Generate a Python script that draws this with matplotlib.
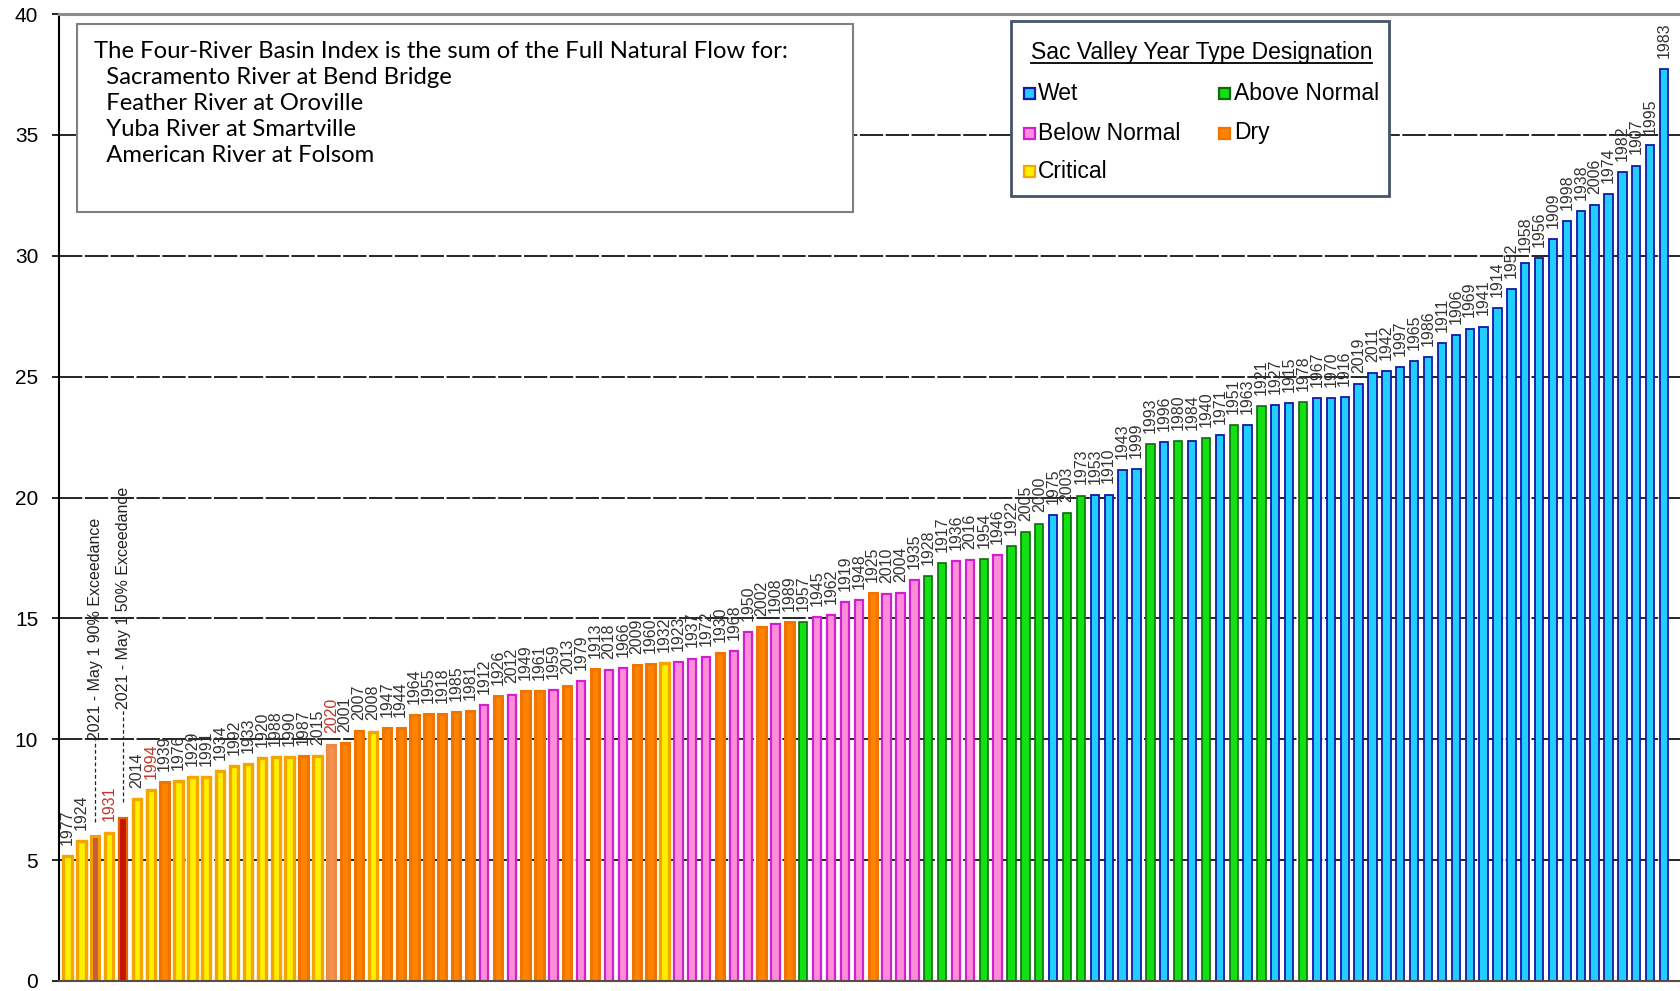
import matplotlib
matplotlib.use("Agg")
import matplotlib.pyplot as plt
from matplotlib.patches import Rectangle
from matplotlib.lines import Line2D

plt.rcParams['font.family'] = ['Liberation Sans', 'DejaVu Sans']

# ---- data (sorted by Four-River index, MAF) ----
years = ["1977", "1924", "2021 90%", "1931", "2021 50%", "2014", "1994", "1939", "1976", "1929",
         "1991", "1934", "1992", "1933", "1920", "1988", "1990", "1987", "2015", "2020",
         "2001", "2007", "2008", "1947", "1944", "1964", "1955", "1918", "1985", "1981",
         "1912", "1926", "2012", "1949", "1961", "1959", "2013", "1979", "1913", "2018",
         "1966", "2009", "1960", "1932", "1923", "1937", "1972", "1930", "1968", "1950",
         "2002", "1908", "1989", "1957", "1945", "1962", "1919", "1948", "1925", "2010",
         "2004", "1935", "1928", "1917", "1936", "2016", "1954", "1946", "1922", "2005",
         "2000", "1975", "2003", "1973", "1953", "1910", "1943", "1999", "1993", "1996",
         "1980", "1984", "1940", "1971", "1951", "1963", "1921", "1927", "1915", "1978",
         "1967", "1970", "1916", "2019", "2011", "1942", "1997", "1965", "1986", "1911",
         "1906", "1969", "1941", "1914", "1952", "1958", "1956", "1909", "1998", "1938",
         "2006", "1974", "1982", "1907", "1995", "1983"]

flow = [5.15, 5.8, 6.0, 6.14, 6.75, 7.53, 7.89, 8.24, 8.27, 8.43,
        8.45, 8.7, 8.9, 8.98, 9.23, 9.26, 9.26, 9.3, 9.3, 9.78,
        9.86, 10.34, 10.32, 10.48, 10.48, 10.99, 11.03, 11.03, 11.12, 11.16,
        11.4, 11.8, 11.85, 12.0, 12.0, 12.05, 12.22, 12.4, 12.92, 12.86,
        12.93, 13.07, 13.11, 13.17, 13.2, 13.34, 13.41, 13.55, 13.65, 14.45,
        14.63, 14.77, 14.86, 14.86, 15.07, 15.12, 15.66, 15.76, 16.03, 16.0,
        16.03, 16.59, 16.75, 17.28, 17.37, 17.41, 17.44, 17.62, 17.99, 18.56,
        18.92, 19.26, 19.35, 20.08, 20.1, 20.12, 21.14, 21.18, 22.22, 22.31,
        22.34, 22.35, 22.45, 22.59, 22.99, 23.0, 23.8, 23.83, 23.89, 23.94,
        24.1, 24.1, 24.16, 24.7, 25.16, 25.23, 25.41, 25.63, 25.82, 26.39,
        26.72, 26.99, 27.07, 27.82, 28.62, 29.7, 29.89, 30.69, 31.42, 31.85,
        32.11, 32.55, 33.45, 33.73, 34.57, 37.71]

# C critical, D dry, BN below normal, AN above normal, W wet,
# P preliminary 2020, F90 / F50 the 2021 May 1 forecasts
year_type = ["C", "C", "F90", "C", "F50", "C", "C", "D", "C", "C",
             "C", "C", "C", "C", "C", "C", "C", "D", "C", "P",
             "D", "D", "C", "D", "D", "D", "D", "D", "D", "D",
             "BN", "D", "BN", "D", "D", "BN", "D", "BN", "D", "BN",
             "BN", "D", "D", "C", "BN", "BN", "BN", "D", "BN", "BN",
             "D", "BN", "D", "AN", "BN", "BN", "BN", "BN", "D", "BN",
             "BN", "BN", "AN", "AN", "BN", "BN", "AN", "BN", "AN", "AN",
             "AN", "W", "AN", "AN", "W", "W", "W", "W", "AN", "W",
             "AN", "W", "AN", "W", "AN", "W", "AN", "W", "W", "AN",
             "W", "W", "W", "W", "W", "W", "W", "W", "W", "W",
             "W", "W", "W", "W", "W", "W", "W", "W", "W", "W",
             "W", "W", "W", "W", "W", "W"]

red_labels = ["1931", "1994", "2020"]

forecast_types = ["F90", "F50"]
forecast_text = ["2021 - May 1 90% Exceedance", "2021 - May 1 50% Exceedance"]
forecast_leader = [(6.56, 9.97), (7.41, 11.25)]

legend_names = ["Wet", "Above Normal", "Below Normal", "Dry", "Critical"]
legend_types = ["W", "AN", "BN", "D", "C"]

note_lines = ["The Four-River Basin Index is the sum of the Full Natural Flow for:",
              "  Sacramento River at Bend Bridge",
              "  Feather River at Oroville",
              "  Yuba River at Smartville",
              "  American River at Folsom"]

# ---- styles ----
fills = {"W": "#22CEFF", "AN": "#12E012", "BN": "#FF8ED9", "D": "#FF8300",
         "C": "#FFF000", "P": "#F3914D", "F90": "#C85C3C", "F50": "#C81200"}
edges = {"W": "#1218A8", "AN": "#0E6B0E", "BN": "#D020D0", "D": "#F27400",
         "C": "#F5A500", "P": "#EE8A48", "F90": "#F2A000", "F50": "#E06400"}
widths = {"W": 1.3, "AN": 1.2, "BN": 1.6, "D": 2.2, "C": 2.4, "P": 2.2,
          "F90": 2.2, "F50": 1.6}

W, H = 1681, 991
fig = plt.figure(figsize=(W / 100, H / 100), dpi=100)
ax = fig.add_axes([59 / W, 1 - 981 / H, (W - 59) / W, (981 - 14) / H])


def fx(px):
    return px / W


def fy(py):
    return 1 - py / H


x = list(range(len(flow)))
ax.bar(x, flow, width=0.6,
       color=[fills[t] for t in year_type],
       edgecolor=[edges[t] for t in year_type],
       linewidth=[widths[t] for t in year_type], zorder=2)

for i, (yr, v, t) in enumerate(zip(years, flow, year_type)):
    if t in forecast_types:
        continue
    ax.annotate(yr, (i, v), xytext=(0, 8), textcoords='offset points',
                rotation=90, ha='center', va='bottom', fontsize=11.5,
                color='#C0392B' if yr in red_labels else '#333333', zorder=3)

# 2021 forecast markers
for t, txt, (y0, y1) in zip(forecast_types, forecast_text, forecast_leader):
    i = year_type.index(t)
    ax.plot([i, i], [y0, y1], color='#222222', lw=0.9, ls=(0, (3, 2)), zorder=3)
    ax.text(i, y1, txt, rotation=90, ha='center', va='bottom', fontsize=11.5,
            color='#222222', zorder=3)

ax.set_xlim(-0.61, 116.22)
ax.set_ylim(0, 40)
ax.set_yticks(range(0, 41, 5))
ax.set_xticks([])
ax.tick_params(axis='y', length=5, width=1.2, pad=10, labelsize=15)
ax.set_axisbelow(True)
ax.yaxis.grid(True, color='black', linestyle=(0, (14, 1.5)), linewidth=1.2)

ax.spines['right'].set_visible(False)
ax.spines['left'].set_color('black')
ax.spines['left'].set_linewidth(1.5)
ax.spines['top'].set_color('#8C8C8C')
ax.spines['top'].set_linewidth(2.2)
ax.spines['bottom'].set_color('#5A4B45')
ax.spines['bottom'].set_linewidth(1.5)

# ---- note box ----
fig.add_artist(Rectangle((fx(77), fy(212)), (853 - 77) / W, (212 - 24) / H,
                         transform=fig.transFigure, facecolor='white',
                         edgecolor='#7F7F7F', lw=1.5, zorder=5))
for k, line in enumerate(note_lines):
    fig.text(fx(94), fy(51.5 + 25.9 * k), line, ha='left', va='center',
             fontsize=17.2, family='Lato', color='black', zorder=6)

# ---- legend box ----
fig.add_artist(Rectangle((fx(1011), fy(196)), (1389 - 1011) / W, (196 - 21) / H,
                         transform=fig.transFigure, facecolor='white',
                         edgecolor='#44546A', lw=2.0, zorder=5))
title = fig.text(fx(1031), fy(59), "Sac Valley Year Type Designation",
                 ha='left', va='baseline', fontsize=16.5, zorder=6)
fig.canvas.draw()
bb = title.get_window_extent()
fig.add_artist(Line2D([bb.x0 / W, bb.x1 / W], [fy(62.5), fy(62.5)],
                      transform=fig.transFigure, color='black', lw=1.3, zorder=6))

col_x = [1029, 1225]
row_y = [93, 133, 171.5]
for k, (name, t) in enumerate(zip(legend_names, legend_types)):
    cx = col_x[k % 2]
    cy = row_y[k // 2]
    fig.add_artist(Rectangle((fx(cx - 5.5), fy(cy + 5.5)), 11 / W, 11 / H,
                             transform=fig.transFigure, facecolor=fills[t],
                             edgecolor=edges[t], lw=1.6, zorder=6))
    fig.text(fx(cx + 9), fy(cy), name, ha='left', va='center',
             fontsize=16.5, zorder=6)

fig.savefig("out.png", dpi=100)
